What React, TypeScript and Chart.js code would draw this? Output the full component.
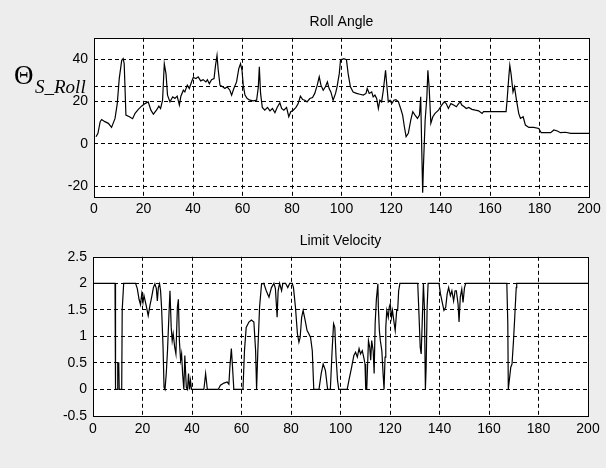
import React, { useEffect, useRef } from "react";
import { Chart, registerables } from "chart.js";

Chart.register(...registerables);

// ---------- data ----------
const xTicks = [0, 20, 40, 60, 80, 100, 120, 140, 160, 180, 200];
const rollTicks = [-20, 0, 20, 40];
const rollRefLines = [27];
const velTicks = [-0.5, 0, 0.5, 1, 1.5, 2, 2.5];

const rollX = [
  0.8, 1.6, 2.5, 3.1, 4.4, 5.8, 7.1, 8.5, 9.4, 10.2, 11.2, 11.8, 12.2, 12.9, 14.3, 15.6, 16.6, 17.9, 19.2, 20.6,
  21.9, 23, 24, 25.3, 26.2, 26.9, 27.7, 28.4, 29.1, 29.7, 30.7, 31.8, 32.7, 33.6, 34.5, 35.1, 36.1, 36.7, 37.7, 38.5,
  39.4, 40.1, 41.2, 42.1, 43.1, 44.1, 45.2, 45.8, 46.6, 47.5, 48.5, 49.1, 49.7, 50.2, 50.9, 52, 52.9, 53.8, 54.9, 55.6,
  56.5, 57.6, 58.5, 59.2, 59.8, 60.3, 61, 61.9, 63, 64.3, 65.7, 66.4, 66.8, 67.3, 68, 69, 70.1, 71.1, 72.1, 73.1,
  74, 75.1, 75.8, 76.7, 77.8, 78.7, 79.5, 80.5, 81.6, 82.5, 83.4, 84.3, 85.2, 86.1, 87.2, 88.3, 89.2, 90.2, 91, 91.7,
  92.6, 93.5, 94.3, 95, 95.7, 96.6, 97.6, 98.2, 99.1, 99.6, 100.9, 102, 102.7, 103.6, 104.7, 106.1, 107.4, 108.8, 109.9, 110.4,
  111.2, 112.2, 112.8, 113.5, 114.2, 114.9, 115.5, 116.2, 116.9, 117.8, 118.2, 118.9, 119.6, 120.3, 121.2, 122, 123, 123.9, 124.7, 125.4,
  126.1, 127, 128, 128.8, 129.7, 130.7, 131.5, 132, 132.4, 132.8, 133.1, 133.8, 134.5, 134.9, 135.4, 136.1, 136.9, 137.8, 139.2, 140.5,
  141.5, 142.3, 143.2, 144.2, 145.3, 146.4, 147.3, 148, 148.6, 149.6, 150.4, 151.4, 152.7, 154.1, 155.4, 156.8, 157.4, 161.5, 166.5, 166.9,
  167.6, 168, 168.5, 169.3, 169.9, 170.7, 171.6, 172.3, 173.4, 174.3, 175.7, 177.7, 179.7, 180.7, 182.4, 184.5, 185.8, 187.2, 188.5, 190.5,
  192.6, 200,
];
const rollY = [
  3.4, 5, 10.5, 11.5, 10.5, 9.7, 7.8, 12, 19, 30.8, 39.4, 40.2, 37.8, 13.6, 12.8, 11.9, 14.4, 16.3, 17.8, 19,
  19.8, 15.9, 14, 16, 17.8, 16.7, 20.6, 37.8, 33, 23, 19.8, 22.2, 21.4, 22.5, 18.3, 22.5, 25.3, 24.5, 27.7, 26.1,
  29.2, 31.3, 30.8, 31.6, 29.7, 30.3, 29.2, 30.3, 28.4, 30.3, 30.8, 37, 41.7, 34.7, 27.7, 26.9, 26.1, 26.9, 25.3, 23,
  26.1, 29.2, 35.5, 37.8, 34.7, 27.7, 23, 21.4, 20.6, 20.3, 20.6, 26.9, 36.3, 23.8, 17.2, 15.9, 17.2, 15.6, 16.7, 14.7,
  17.2, 19.4, 16.7, 15.9, 17.2, 12.8, 15.2, 15.9, 17.2, 19, 22.5, 20.9, 20.6, 19.8, 21.4, 21.9, 23.8, 27.7, 31.6, 27.7,
  25.3, 26.9, 29.2, 26.1, 24.5, 20.6, 23.8, 26.9, 33.1, 39.4, 40.2, 39.7, 33, 26.9, 24.5, 23.8, 23.4, 23, 23.8, 26.1,
  23.8, 24.5, 22.2, 23, 21.4, 16.7, 20.6, 19.8, 25.3, 34.7, 29.2, 19.8, 20.6, 19, 20.6, 20.9, 19.8, 16.7, 13.6, 8.1,
  3.4, 5, 11.3, 15.2, 13.6, 12, 13.6, 22.2, -1.2, -23, -10.6, 11.3, 22.2, 34.7, 26.9, 9.7, 12.8, 14.4, 15.9, 18.3,
  19.8, 19, 16.7, 19, 18.3, 17.5, 19, 19.8, 18.3, 17.5, 16.7, 17.2, 16.3, 15.9, 15.6, 14.4, 15.2, 15.2, 15.2, 20.6,
  31.6, 37, 33.1, 24.5, 26.9, 20.6, 14.4, 12, 12.8, 8.9, 7.8, 7.8, 7.3, 5.3, 5.3, 5.3, 6.6, 6.1, 5.3, 5.5,
  5, 5,
];

const velX = [
  0, 8.9, 9.1, 9.8, 10.0, 10.4, 10.6, 11.6, 11.8, 12.4, 17.2, 17.9, 18.6, 19.2, 19.7, 20.2, 20.6, 21.5, 22.3, 23,
  23.7, 24.4, 25, 25.6, 26, 26.4, 26.9, 27.3, 27.7, 28.3, 28.7, 29.1, 29.6, 30.1, 30.7, 31.1, 31.6, 32, 32.4, 33,
  33.5, 34.1, 34.5, 34.9, 35.4, 35.8, 36.2, 36.7, 37.1, 37.7, 38.2, 38.6, 39, 39.4, 39.8, 44.8, 45.5, 46.2, 50.6, 51.5,
  52.9, 54.2, 54.9, 55.3, 55.9, 56.3, 56.9, 60.6, 61.2, 61.9, 63, 64, 65, 65.7, 66.1, 66.6, 67.3, 68.1, 69, 70,
  71.1, 72.1, 73.1, 73.7, 74.4, 74.8, 75.4, 76.2, 76.7, 77.8, 78.7, 79.5, 80.5, 81, 81.8, 82.6, 83.2, 83.7, 84.3, 84.9,
  85.6, 86.5, 87.2, 87.9, 88.6, 89.2, 91.3, 92.2, 93, 93.9, 94.8, 95.9, 96.6, 97.2, 97.7, 98.2, 98.8, 99.3, 102.7, 103.4,
  104.5, 105.4, 106.1, 106.8, 107.5, 108.1, 108.8, 109.5, 109.9, 110.2, 110.6, 111.3, 111.8, 112.2, 112.6, 113.2, 113.6, 114, 114.5, 115.1,
  115.3, 115.7, 116.1, 116.7, 117.2, 117.6, 118, 118.3, 118.7, 119.3, 119.7, 120.1, 120.6, 121, 121.7, 122.1, 122.7, 123.1, 123.5, 124,
  131.2, 131.6, 132.2, 132.6, 133, 133.5, 133.9, 134.3, 134.6, 135, 135.4, 139.8, 140.4, 141.1, 141.8, 142.5, 143.1, 143.7, 144.4, 145,
  145.7, 146.3, 146.8, 147.5, 147.9, 148.4, 149, 149.5, 150.1, 150.6, 167.2, 167.6, 167.8, 168.2, 168.8, 169.3, 169.9, 170.4, 171, 171.2,
  200,
];
const velY = [
  2, 2, 0, 0, 0.5, 0.5, 0, 0, 1.5, 2, 2, 1.9, 1.7, 1.6, 1.8, 1.64, 1.77, 1.58, 1.39, 1.58,
  1.74, 1.92, 1.99, 1.9, 1.67, 1.92, 1.99, 1.86, 1.55, 0.8, 0.04, 0, 0.3, 0.73, 1.42, 1.86, 1.17, 0.92, 1.05, 0.8,
  0.67, 1.55, 1.7, 0.92, 0.55, 0.67, 0.3, 0, 0.64, 0.04, 0, 0.3, 0, 0.17, 0, 0, 0.3, 0, 0, 0.08,
  0.12, 0.14, 0.1, 0.42, 0.77, 0.48, 0, 0, 0.73, 1.17, 1.27, 1.31, 1.27, 0.73, 0, 0.73, 1.55, 1.99, 2, 1.86,
  1.74, 1.92, 2, 1.9, 1.36, 1.86, 2, 1.86, 2, 2, 1.92, 2, 2, 1.92, 1.55, 1.05, 0.89, 0.98, 1.36, 1.49,
  1.33, 1.11, 1.05, 0.98, 0.73, 0, 0, 0.3, 0.48, 0.36, 0, 0, 0.73, 1.24, 1.17, 0.61, 0.17, 0, 0, 0.17,
  0.42, 0.64, 0.7, 0.61, 0.77, 0.67, 0.73, 0.58, 0.48, 0, 0, 0.92, 0.8, 0.55, 0.92, 0.73, 0.3, 1.24, 1.7, 1.99,
  1.55, 1.11, 0.92, 0.73, 0.3, 0, 0.61, 1.17, 1.49, 1.36, 1.55, 1.61, 1.36, 1.49, 1.24, 1.11, 1.49, 1.49, 1.86, 2,
  2, 1.55, 0.8, 0.67, 1.24, 1.99, 1.55, 0, 0.42, 1.55, 2, 2, 1.8, 1.64, 1.49, 1.55, 1.8, 1.92, 1.77, 1.86,
  1.67, 1.86, 1.86, 1.61, 1.27, 1.74, 1.89, 1.64, 1.92, 2, 2, 1.24, 0, 0.17, 0.42, 0.48, 0.92, 1.36, 1.92, 2,
  2,
];

// ---------- helpers ----------
const FONT = "'Liberation Sans', Arial, Helvetica, sans-serif";

const framePlugin = {
  id: "frame",
  beforeDraw(chart: any) {
    const { ctx, chartArea: a } = chart;
    ctx.save();
    ctx.fillStyle = "#ffffff";
    ctx.fillRect(a.left, a.top, a.right - a.left, a.bottom - a.top);
    ctx.restore();
  },
  afterDraw(chart: any) {
    const { ctx, chartArea: a } = chart;
    ctx.save();
    ctx.strokeStyle = "#000";
    ctx.lineWidth = 1;
    ctx.setLineDash([]);
    ctx.strokeRect(Math.round(a.left) + 0.5, Math.round(a.top) + 0.5, Math.round(a.right - a.left), Math.round(a.bottom - a.top));
    ctx.restore();
  },
};

function makeConfig(p: {
  title: string;
  xs: number[];
  ys: number[];
  yMin: number;
  yMax: number;
  yTicks: number[];
  yExtra: number[];
  titlePad: { top: number; bottom: number };
  yWidth: number;
  rightPad: number;
  xHeight: number;
  xPad: number;
}) {
  const edgeColor = (lo: number, hi: number) => (c: any) =>
    c.tick && (c.tick.value === lo || c.tick.value === hi) ? "rgba(0,0,0,0)" : "#000";
  const border = { display: false, dash: [4, 3] };
  const tickFont = { family: FONT, size: 14 };
  const xMin = xTicks[0];
  const xMax = xTicks[xTicks.length - 1];
  return {
    type: "line",
    data: {
      datasets: [
        {
          data: p.xs.map((x, i) => ({ x, y: p.ys[i] })),
          borderColor: "#000",
          borderWidth: 1.2,
          pointRadius: 0,
          tension: 0,
          fill: false,
        },
      ],
    },
    options: {
      animation: false,
      responsive: false,
      maintainAspectRatio: false,
      layout: { padding: { left: 0, right: p.rightPad, top: 0, bottom: 0 } },
      plugins: {
        legend: { display: false },
        tooltip: { enabled: false },
        title: {
          display: true,
          fullSize: false,
          text: p.title,
          color: "#000",
          font: { family: FONT, size: 14, weight: "normal" },
          padding: p.titlePad,
        },
      },
      scales: {
        x: {
          type: "linear",
          min: xMin,
          max: xMax,
          afterBuildTicks: (s: any) => {
            s.ticks = xTicks.map((v) => ({ value: v }));
          },
          afterFit: (s: any) => {
            s.height = p.xHeight;
          },
          ticks: {
            color: "#000",
            font: tickFont,
            padding: p.xPad,
            maxRotation: 0,
            autoSkip: false,
            callback: (v: any) => String(v),
          },
          grid: { color: edgeColor(xMin, xMax), lineWidth: 1, drawTicks: false },
          border,
        },
        y: {
          type: "linear",
          min: p.yMin,
          max: p.yMax,
          afterBuildTicks: (s: any) => {
            s.ticks = [...p.yTicks, ...p.yExtra].sort((a, b) => a - b).map((v) => ({ value: v }));
          },
          afterFit: (s: any) => {
            s.width = p.yWidth;
          },
          ticks: {
            color: "#000",
            font: tickFont,
            padding: 6,
            autoSkip: false,
            callback: (v: any) => (p.yTicks.includes(v) ? String(v) : ""),
          },
          grid: { color: edgeColor(p.yMin, p.yMax), lineWidth: 1, drawTicks: false },
          border,
        },
      },
    },
    plugins: [framePlugin],
  } as any;
}

function ChartCanvas({ config, top, height }: { config: any; top: number; height: number }) {
  const ref = useRef<HTMLCanvasElement | null>(null);
  useEffect(() => {
    if (!ref.current) return;
    const chart = new Chart(ref.current, config);
    return () => chart.destroy();
  }, [config]);
  return (
    <canvas
      ref={ref}
      width={606}
      height={height}
      style={{ position: "absolute", left: 0, top, width: 606, height }}
    />
  );
}

const rollConfig = makeConfig({
  title: "Roll Angle",
  xs: rollX,
  ys: rollY,
  yMin: -25,
  yMax: 50,
  yTicks: rollTicks,
  yExtra: rollRefLines,
  titlePad: { top: 14, bottom: 7 },
  yWidth: 94,
  rightPad: 17,
  xHeight: 25,
  xPad: 4,
});

const velConfig = makeConfig({
  title: "Limit Velocity",
  xs: velX,
  ys: velY,
  yMin: -0.5,
  yMax: 2.5,
  yTicks: velTicks,
  yExtra: [],
  titlePad: { top: 11, bottom: 7 },
  yWidth: 93,
  rightPad: 18,
  xHeight: 52,
  xPad: 5,
});

export default function App() {
  return (
    <div
      style={{
        position: "absolute",
        left: 0,
        top: 0,
        width: 606,
        height: 468,
        background: "#ededed",
        overflow: "hidden",
      }}
    >
      <ChartCanvas config={rollConfig} top={0} height={222} />
      <ChartCanvas config={velConfig} top={222} height={246} />
      <div
        style={{
          position: "absolute",
          left: 14,
          top: 62,
          fontFamily: "'Liberation Serif', 'Times New Roman', serif",
          fontSize: 27,
          lineHeight: 1,
          color: "#000",
        }}
      >
        Θ
      </div>
      <div
        style={{
          position: "absolute",
          left: 35,
          top: 77,
          fontFamily: "'Liberation Serif', 'Times New Roman', serif",
          fontStyle: "italic",
          fontSize: 19,
          lineHeight: 1,
          color: "#000",
          whiteSpace: "nowrap",
        }}
      >
        S_Roll
      </div>
    </div>
  );
}
